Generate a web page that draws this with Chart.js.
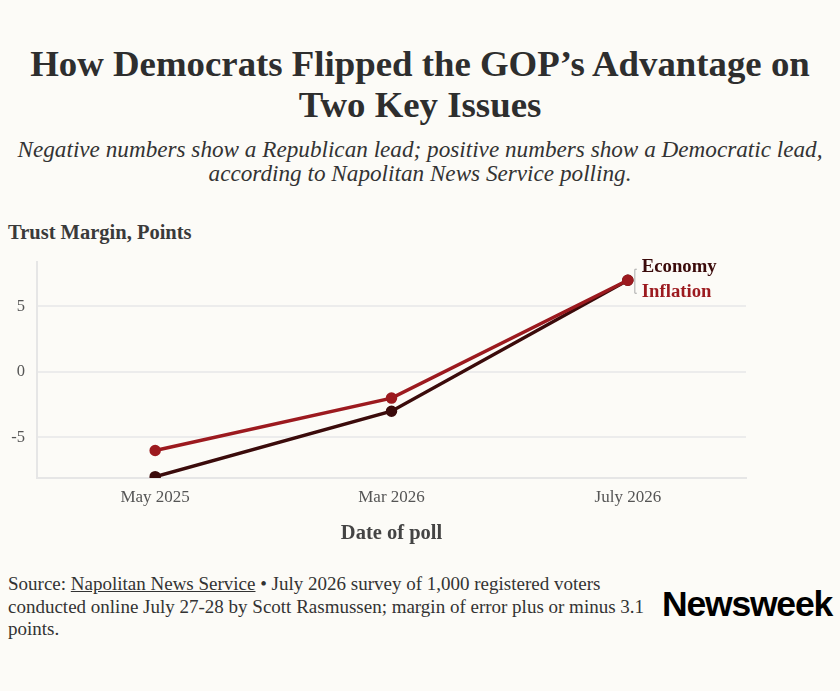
<!DOCTYPE html>
<html>
<head>
<meta charset="utf-8">
<script src="https://cdn.jsdelivr.net/npm/chart.js@4.4.1/dist/chart.umd.min.js"></script>
<style>
  html, body { margin: 0; padding: 0; background: #fcfbf7; }
  body { width: 840px; height: 691px; position: relative; overflow: hidden; font-family: "Liberation Serif", serif; color: #333; }
  #title { position: absolute; top: 43px; left: 0; width: 840px; text-align: center; font-weight: bold; font-size: 36.8px; line-height: 41px; color: #2e2e2e; }
  #subtitle { position: absolute; top: 137px; left: 0; width: 840px; text-align: center; font-style: italic; font-size: 23.2px; line-height: 24px; color: #333; }
  #ytitle { position: absolute; top: 221px; left: 8px; font-weight: bold; font-size: 20.5px; color: #3a3a3a; }
  #wrap { position: absolute; top: 240px; left: 0; width: 840px; height: 310px; }
  #footer { position: absolute; top: 573px; left: 8px; font-size: 19px; line-height: 22.5px; color: #333; }
  #footer u { text-decoration: underline; }
  #logo { position: absolute; top: 584px; left: 662px; font-family: "Liberation Sans", Arial, sans-serif; font-weight: bold; font-size: 35.5px; letter-spacing: -1.2px; color: #000; }
</style>
</head>
<body>
<div id="title">How Democrats Flipped the GOP’s Advantage on<br>Two Key Issues</div>
<div id="subtitle">Negative numbers show a Republican lead; positive numbers show a Democratic lead,<br>according to Napolitan News Service polling.</div>
<div id="ytitle">Trust Margin, Points</div>
<div id="wrap"><canvas id="trustChart"></canvas></div>
<div id="footer">Source: <u>Napolitan News Service</u> • July 2026 survey of 1,000 registered voters<br>conducted online July 27-28 by Scott Rasmussen; margin of error plus or minus 3.1<br>points.</div>
<div id="logo">Newsweek</div>
<script>
const pollDates = ['May 2025', 'Mar 2026', 'July 2026'];
const economy = [-8, -3, 7];
const inflation = [-6, -2, 7];
const yTicks = [-5, 0, 5];

const economyColor = '#3b0b0b';
const inflationColor = '#9c1a1f';

const endLabels = {
    id: 'endLabels',
    afterDatasetsDraw(chart) {
        const c = chart.ctx;
        const infPt = chart.getDatasetMeta(0).data[2];
        const ecoPt = chart.getDatasetMeta(1).data[2];
        const x = Math.max(infPt.x, ecoPt.x);
        const y = (infPt.y + ecoPt.y) / 2;
        c.save();
        c.strokeStyle = '#aaaaaa';
        c.lineWidth = 1;
        c.beginPath();
        c.moveTo(x + 9, y - 11);
        c.lineTo(x + 7, y - 11);
        c.lineTo(x + 7, y + 13);
        c.lineTo(x + 9, y + 13);
        c.stroke();
        c.font = 'bold 18.7px "Liberation Serif", serif';
        c.textBaseline = 'middle';
        c.fillStyle = economyColor;
        c.fillText('Economy', x + 14, y - 13);
        c.fillStyle = inflationColor;
        c.fillText('Inflation', x + 14, y + 12);
        c.restore();
    }
};

const ctx = document.getElementById('trustChart');
new Chart(ctx, {
    type: 'line',
    data: {
        labels: pollDates,
        datasets: [{
            label: 'Inflation',
            data: inflation,
            borderColor: inflationColor,
            backgroundColor: inflationColor,
            borderWidth: 3.5,
            pointRadius: 4,
            pointHoverRadius: 4
        }, {
            label: 'Economy',
            data: economy,
            borderColor: economyColor,
            backgroundColor: economyColor,
            borderWidth: 3.5,
            pointRadius: 4,
            pointHoverRadius: 4
        }]
    },
    options: {
        responsive: true,
        maintainAspectRatio: false,
        animation: false,
        layout: { padding: { top: 0, right: 94, bottom: 0, left: 0 } },
        plugins: {
            legend: { display: false },
            tooltip: { enabled: false }
        },
        scales: {
            x: {
                offset: true,
                grid: { display: false, drawTicks: true, tickLength: 6, color: '#e6e6e6' },
                border: { color: '#e6e6e6', width: 2 },
                ticks: { color: '#555', font: { family: '"Liberation Serif", serif', size: 17 }, padding: 3 },
                title: {
                    display: true,
                    text: 'Date of poll',
                    color: '#444',
                    font: { family: '"Liberation Serif", serif', size: 20.5, weight: 'bold' },
                    padding: { top: 12, bottom: 4 }
                },
                afterFit(scale) { scale.height = 72; }
            },
            y: {
                min: -8.1,
                max: 8.4,
                afterBuildTicks(scale) { scale.ticks = yTicks.map(v => ({ value: v })); },
                grid: { color: '#ececec', lineWidth: 2, drawTicks: false },
                border: { color: '#e6e6e6', width: 2 },
                ticks: { color: '#555', font: { family: '"Liberation Serif", serif', size: 16.5 }, padding: 12 },
                afterFit(scale) { scale.width = 37; }
            }
        }
    },
    plugins: [endLabels]
});
</script>
</body>
</html>
